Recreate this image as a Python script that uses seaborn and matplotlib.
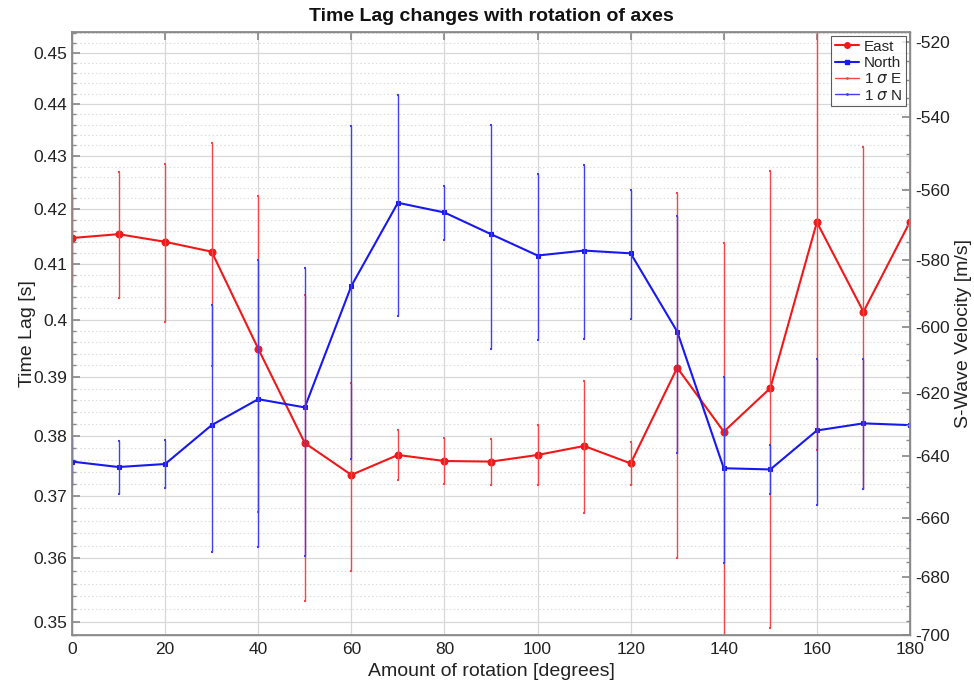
import numpy as np
import pandas as pd
import matplotlib
matplotlib.use("Agg")
import matplotlib.pyplot as plt
from matplotlib.lines import Line2D
from matplotlib.ticker import FixedLocator, FixedFormatter, NullFormatter
import seaborn as sns

# ---------------- data ----------------
angles = [0, 10, 20, 30, 40, 50, 60, 70, 80, 90, 100, 110, 120, 130, 140, 150, 160, 170, 180]
east = [0.4147, 0.4154, 0.4140, 0.4122, 0.3949, 0.3788, 0.3735, 0.3768, 0.3758, 0.3757,
        0.3768, 0.3783, 0.3754, 0.3916, 0.3807, 0.3881, 0.4176, 0.4014, 0.4177]
east_err = [0.0081, 0.0116, 0.0144, 0.0203, 0.0275, 0.0255, 0.0155, 0.0042, 0.0038, 0.0038,
            0.0050, 0.0110, 0.0035, 0.0315, 0.0330, 0.0390, 0.0400, 0.0303, 0.0088]
north = [0.3757, 0.3748, 0.3753, 0.3818, 0.3862, 0.3848, 0.4060, 0.4212, 0.4194, 0.4154,
         0.4115, 0.4124, 0.4119, 0.3979, 0.3746, 0.3744, 0.3809, 0.3821, 0.3818]
north_err = [0.0039, 0.0044, 0.0040, 0.0208, 0.0244, 0.0244, 0.0298, 0.0205, 0.0050, 0.0205,
             0.0150, 0.0158, 0.0117, 0.0208, 0.0154, 0.0040, 0.0123, 0.0110, 0.0189]

left_ticks = [0.35, 0.36, 0.37, 0.38, 0.39, 0.40, 0.41, 0.42, 0.43, 0.44, 0.45]
left_labels = ["0.35", "0.36", "0.37", "0.38", "0.39", "0.4", "0.41", "0.42", "0.43", "0.44", "0.45"]
right_ticks = [-700, -680, -660, -640, -620, -600, -580, -560, -540, -520]
x_ticks = [0, 20, 40, 60, 80, 100, 120, 140, 160, 180]

title = "Time Lag changes with rotation of axes"
xlabel = "Amount of rotation [degrees]"
ylabel = "Time Lag [s]"
ylabel_right = "S-Wave Velocity [m/s]"

# ---------------- style ----------------
sns.set_theme(style="white")
plt.rcParams["font.family"] = ["Liberation Sans", "DejaVu Sans"]

fig = plt.figure(figsize=(9.74, 6.83), dpi=100)
ax = fig.add_axes([72 / 974, 1 - 635 / 683, (910 - 72) / 974, (635 - 32) / 683])

df = pd.DataFrame({"angle": angles, "East": east, "North": north})

red = "#f01818"
blue = "#1818f0"
red_e = "#f04848"
blue_e = "#4040ee"

sns.lineplot(data=df, x="angle", y="East", ax=ax, color=red, lw=1.5, marker="o",
             markersize=5, markeredgecolor=red, zorder=3)
sns.lineplot(data=df, x="angle", y="North", ax=ax, color=blue, lw=1.5, marker="s",
             markersize=3.5, markeredgecolor=blue, zorder=3)

ax.errorbar(angles, east, yerr=east_err, fmt="none", ecolor=red_e, elinewidth=1.0,
            capsize=1.0, capthick=1.5, zorder=4)
ax.errorbar(angles, north, yerr=north_err, fmt="none", ecolor=blue_e, elinewidth=1.0,
            capsize=1.0, capthick=1.5, zorder=4)

ax.set_yscale("log")
ax.set_ylim(0.3480, 0.4542)
ax.set_xlim(0, 180)
ax.yaxis.set_major_locator(FixedLocator(left_ticks))
ax.yaxis.set_major_formatter(FixedFormatter(left_labels))
minor = [round(0.348 + 0.002 * i, 3) for i in range(0, 54)]
ax.yaxis.set_minor_locator(FixedLocator([m for m in minor if round(m * 100, 6) % 1 != 0]))
ax.yaxis.set_minor_formatter(NullFormatter())
ax.set_xticks(x_ticks)
ax.set_xticklabels([str(v) for v in x_ticks])

ax.grid(True, which="major", color="#d8d8d8", lw=0.9, ls="-")
ax.grid(True, which="minor", axis="y", color="#dedede", lw=0.8, ls=(0, (1.5, 2)))
ax.set_axisbelow(True)

for s in ax.spines.values():
    s.set_color("#8a8a8a")
    s.set_linewidth(1.0)

ax.tick_params(axis="both", which="both", direction="in", colors="#8a8a8a",
               labelcolor="#222222", labelsize=12.5, top=True, right=False)
ax.tick_params(axis="both", which="major", length=6)
ax.tick_params(axis="both", which="minor", length=3)
ax.tick_params(axis="x", pad=5)

ax.set_xlabel(xlabel, fontsize=14, color="#222222", labelpad=4)
ax.set_ylabel(ylabel, fontsize=14, color="#222222", labelpad=-2)
ax.set_title(title, fontsize=14, fontweight="bold", color="#111111", pad=8)

# right axis: velocity, logarithmic in |v|
ax2 = ax.twinx()
fwd = lambda v: -np.log(np.clip(-np.asarray(v, dtype=float), 1e-9, None))
inv = lambda u: -np.exp(-np.asarray(u, dtype=float))
ax2.set_yscale("function", functions=(fwd, inv))
ax2.set_ylim(-700, -517.5)
ax2.yaxis.set_major_locator(FixedLocator(right_ticks))
ax2.yaxis.set_major_formatter(FixedFormatter([str(v) for v in right_ticks]))
ax2.yaxis.set_minor_locator(FixedLocator([v for v in range(-700, -515, 5) if v % 20 != 0]))
ax2.yaxis.set_minor_formatter(NullFormatter())
ax2.tick_params(axis="y", which="both", direction="in", colors="#8a8a8a",
                labelcolor="#222222", labelsize=12.5)
ax2.tick_params(axis="y", which="major", length=6)
ax2.tick_params(axis="y", which="minor", length=3)
ax2.set_ylabel(ylabel_right, fontsize=14, color="#222222", labelpad=4)
for s in ax2.spines.values():
    s.set_color("#8a8a8a")
ax2.grid(False)

handles = [
    Line2D([], [], color=red, lw=1.5, marker="o", markersize=4),
    Line2D([], [], color=blue, lw=1.5, marker="s", markersize=2.5),
    Line2D([], [], color=red_e, lw=1.0, marker=".", markersize=2),
    Line2D([], [], color=blue_e, lw=1.0, marker=".", markersize=2),
]
labels = ["East", "North", r"1 $\sigma$ E", r"1 $\sigma$ N"]
leg = ax2.legend(handles, labels, loc="upper right", fontsize=11, frameon=True,
                 fancybox=False, edgecolor="#333333", borderpad=0.25, labelspacing=0.15,
                 handlelength=1.6, handletextpad=0.3, borderaxespad=0.25)
leg.get_frame().set_linewidth(0.8)

fig.savefig("out.png", dpi=100)
